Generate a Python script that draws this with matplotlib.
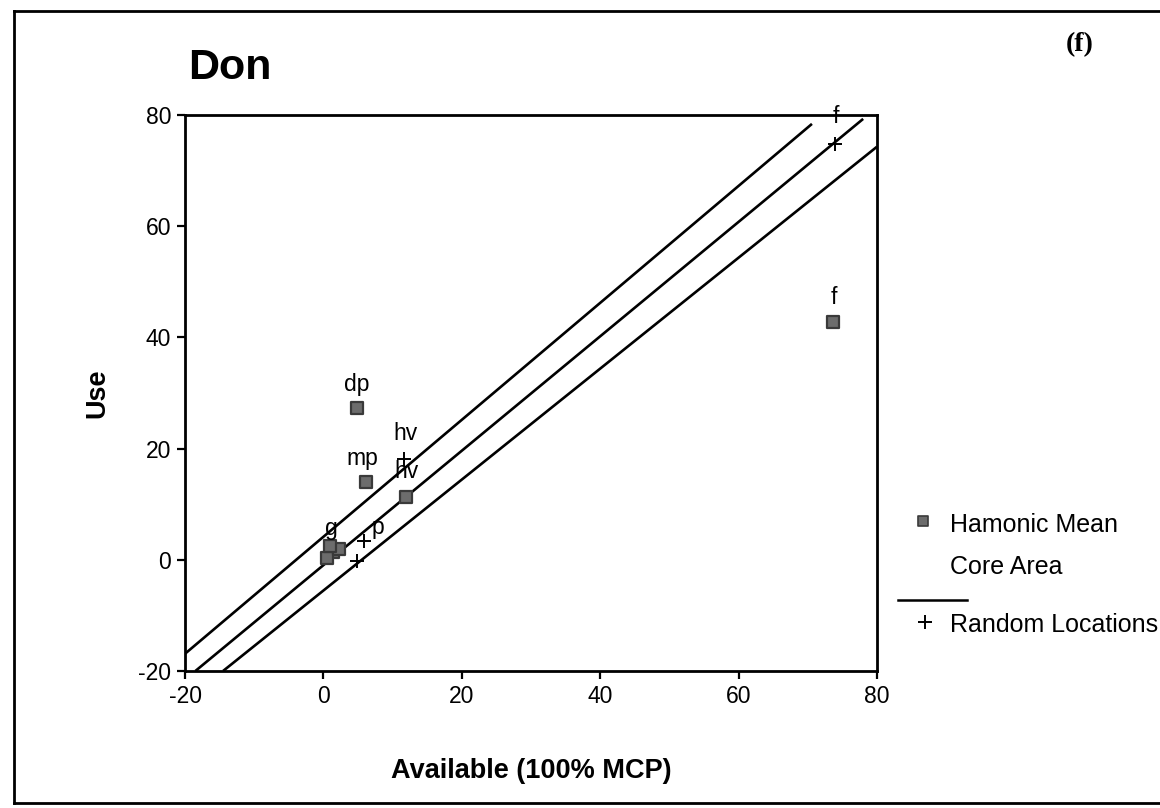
import matplotlib
matplotlib.use("Agg")
import matplotlib.pyplot as plt
from matplotlib.lines import Line2D
from matplotlib.markers import MarkerStyle

plt.rcParams['font.family'] = ['Liberation Sans', 'DejaVu Sans']
plt.rcParams['axes.unicode_minus'] = False

# Harmonic mean core-area habitat use vs availability
hm_labels = ['dp', 'mp', 'hv', 'f', 'g', '', '', '']
hm_x = [4.8, 6.2, 12.0, 73.7, 1.4, 0.5, 2.3, 1.0]
hm_y = [27.3, 14.0, 11.3, 42.7, 1.4, 0.3, 2.0, 2.4]

# Random locations
rl_labels = ['f', 'hv', 'p', '']
rl_x = [74.0, 11.6, 5.9, 4.8]
rl_y = [74.8, 18.2, 3.3, -0.2]

# Reference lines (upper, 1:1, lower)
upper_x = [-20.0, 70.6]
upper_y = [-16.9, 78.4]
mid_x = [-18.5, 78.0]
mid_y = [-20.0, 79.3]
lower_x = [-14.5, 80.0]
lower_y = [-20.0, 74.3]

x_ticks = [-20, 0, 20, 40, 60, 80]
y_ticks = [-20, 0, 20, 40, 60, 80]

W, H = 1160, 808
fig = plt.figure(figsize=(W / 100, H / 100), dpi=100)
ax = fig.add_axes([185 / W, 1 - 671 / H, (877 - 185) / W, (671 - 115) / H])

for xs, ys in [(upper_x, upper_y), (mid_x, mid_y), (lower_x, lower_y)]:
    ax.plot(xs, ys, color='black', lw=1.9, solid_capstyle='butt')

rounded_square = MarkerStyle('s', joinstyle='round')
ax.plot(hm_x, hm_y, linestyle='none', marker=rounded_square, markersize=8.5,
        markerfacecolor='#6c6c6c', markeredgecolor='#3a3a3a', markeredgewidth=1.6)

ax.plot(rl_x, rl_y, linestyle='none', marker='+', markersize=10,
        markeredgewidth=1.4, color='black')

label_offsets = {'dp': (0, 17), 'mp': (-3, 17), 'hv': (0, 18), 'f': (0, 18), 'g': (-1, 17)}
for lab, x, y in zip(hm_labels, hm_x, hm_y):
    if lab:
        ax.annotate(lab, (x, y), xytext=label_offsets[lab], textcoords='offset points',
                    ha='center', va='center', fontsize=16.5)
rl_offsets = {'f': (0, 20), 'hv': (1, 18), 'p': (10, 10)}
for lab, x, y in zip(rl_labels, rl_x, rl_y):
    if lab:
        ax.annotate(lab, (x, y), xytext=rl_offsets[lab], textcoords='offset points',
                    ha='center', va='center', fontsize=16.5)

ax.set_xlim(-20, 80)
ax.set_ylim(-20, 80)
ax.set_xticks(x_ticks)
ax.set_yticks(y_ticks)
ax.tick_params(direction='out', length=6, width=1.6, labelsize=16.5, pad=4,
               top=False, right=False)
for s in ax.spines.values():
    s.set_linewidth(2.0)
ax.set_xlabel('Available (100% MCP)', fontsize=19.5, fontweight='bold', labelpad=36)
ax.set_ylabel('Use', fontsize=19.5, fontweight='bold', labelpad=20)

fig.text(188 / W, 1 - 68 / H, 'Don', fontsize=31, fontweight='bold', ha='left', va='center')
fig.text(1080 / W, 1 - 45 / H, '(f)', fontsize=20, fontweight='bold', ha='center', va='center',
         family=['Liberation Serif', 'DejaVu Serif'])

# Legend drawn by hand in figure coordinates
fig.add_artist(Line2D([923 / W], [1 - 521 / H], marker=rounded_square, markersize=6.5,
                      markerfacecolor='#6c6c6c', markeredgecolor='#3a3a3a',
                      markeredgewidth=1.2, linestyle='none'))
fig.text(950 / W, 1 - 525 / H, 'Hamonic Mean', fontsize=18, ha='left', va='center')
fig.text(950 / W, 1 - 567 / H, 'Core Area', fontsize=18, ha='left', va='center')
fig.add_artist(Line2D([898 / W, 967 / W], [1 - 600 / H, 1 - 600 / H], color='black', lw=1.8))
fig.add_artist(Line2D([925 / W], [1 - 622 / H], marker='+', markersize=10,
                      markeredgewidth=1.4, color='black', linestyle='none'))
fig.text(950 / W, 1 - 625 / H, 'Random Locations', fontsize=18, ha='left', va='center')

# Outer frame
fl, ft, fb = 14 / W, 1 - 11 / H, 1 - 803 / H
fig.add_artist(Line2D([fl, 1.0], [ft, ft], color='black', lw=2.0))
fig.add_artist(Line2D([fl, fl], [ft, fb], color='black', lw=2.0))
fig.add_artist(Line2D([fl, 1.0], [fb, fb], color='black', lw=2.0))

fig.savefig('out.png', dpi=100, facecolor='white')
